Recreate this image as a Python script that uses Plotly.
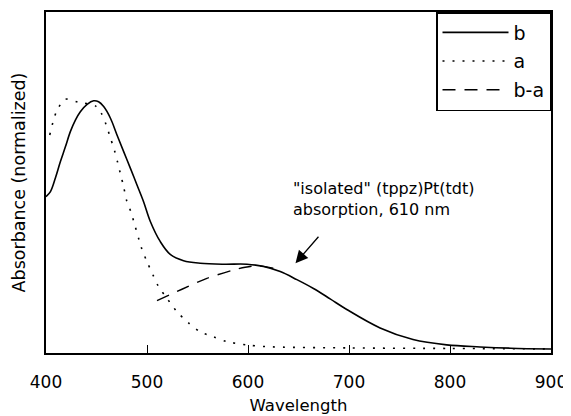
import plotly.graph_objects as go

# wavelength (nm) / normalized absorbance
b_x = [400, 404.4, 409.3, 414.2, 419.2, 424.1, 429.1, 434, 440.7, 447.2, 452.1, 457.1,
       463.7, 470.3, 476.9, 483.5, 490.1, 496.6, 503.3, 513.2, 523, 536.2, 552.7, 575.8,
       599, 615.3, 631.9, 648.4, 664.8, 681.3, 697.8, 730.8, 763.4, 796.7, 829.7, 860, 900]
b_y = [0.618, 0.638, 0.692, 0.756, 0.815, 0.875, 0.921, 0.954, 0.983, 0.997, 0.993, 0.974,
       0.929, 0.862, 0.796, 0.731, 0.664, 0.598, 0.520, 0.440, 0.390, 0.365, 0.355, 0.351,
       0.351, 0.342, 0.322, 0.290, 0.255, 0.214, 0.172, 0.099, 0.053, 0.032, 0.024, 0.019, 0.016]

a_x = [403.7, 407, 411, 419.2, 432.3, 448.9, 454.8, 459.4, 463.7, 467.7, 470.9, 473.6,
       476.9, 479.5, 484.2, 495, 500, 506, 511.5, 519.8, 529.7, 541.1, 552.7, 565.9,
       579.1, 598.9, 618.7, 700, 800, 900]
a_y = [0.862, 0.914, 0.960, 1.003, 0.991, 0.977, 0.947, 0.904, 0.851, 0.802, 0.754, 0.710,
       0.657, 0.607, 0.556, 0.410, 0.361, 0.308, 0.262, 0.216, 0.163, 0.119, 0.084, 0.064,
       0.045, 0.032, 0.025, 0.020, 0.018, 0.016]

ba_x = [509.9, 534.6, 559.3, 585.7, 597.2, 610, 625]
ba_y = [0.207, 0.252, 0.295, 0.328, 0.339, 0.345, 0.335]

x_ticks = [400, 500, 600, 700, 800, 900]

FONT = "DejaVu Sans, Liberation Sans, Arial, sans-serif"

fig = go.Figure()
fig.add_trace(go.Scatter(x=b_x, y=b_y, name="b", mode="lines", legendgroup="b",
                         line=dict(color="black", width=1.6, shape="spline", smoothing=1)))
fig.add_trace(go.Scatter(x=a_x, y=a_y, name="a", mode="lines", legendgroup="a",
                         line=dict(color="black", width=1.6, dash="2px,8px",
                                   shape="spline", smoothing=0.8)))
fig.add_trace(go.Scatter(x=ba_x, y=ba_y, name="b-a", mode="lines", legendgroup="ba",
                         line=dict(color="black", width=1.4, dash="13px,9px",
                                   shape="spline", smoothing=0.8)))

# the page body adds an 8px offset; figure is sized to fit the 571x416 window
W, H = 563, 408
L, R, T, B = 38, 20, 4, 63
pw, ph = W - L - R, H - T - B


def px(xref_pixel):
    return (xref_pixel - 8 - L) / pw


def py(yref_pixel):
    return (H - B - (yref_pixel - 8)) / ph


fig.update_layout(
    width=W, height=H,
    margin=dict(l=L, r=R, t=T, b=B, autoexpand=False),
    paper_bgcolor="white", plot_bgcolor="white",
    font=dict(family=FONT, color="black", size=16),
    showlegend=True,
    legend=dict(x=1, y=1, xanchor="right", yanchor="top",
                bgcolor="white", bordercolor="black", borderwidth=1.5,
                font=dict(size=19), tracegroupgap=1,
                itemwidth=66),
    xaxis=dict(range=[400, 900], tickvals=x_ticks, ticktext=[str(v) for v in x_ticks],
               ticks="inside", ticklen=8, tickwidth=1.2, tickcolor="black",
               ticklabelstandoff=13,
               showline=True, linecolor="black", linewidth=2, mirror=True,
               showgrid=False, zeroline=False, automargin=False,
               tickfont=dict(size=17),
               title=dict(text="Wavelength", font=dict(size=16.5), standoff=8)),
    yaxis=dict(range=[0, 1.348], showticklabels=False, ticks="",
               showline=True, linecolor="black", linewidth=2, mirror=True,
               showgrid=False, zeroline=False, automargin=False,
               title=dict(text="Absorbance (normalized)", font=dict(size=17.5), standoff=14)),
)

fig.add_annotation(x=647, y=0.355, ax=27, ay=-31, axref="pixel", ayref="pixel",
                   text=" ", showarrow=True, arrowhead=2, arrowsize=1.9, arrowwidth=1.3,
                   arrowcolor="black")
fig.add_annotation(xref="paper", yref="paper", x=px(291), y=py(177),
                   xanchor="left", yanchor="top", align="left", showarrow=False,
                   text="\"isolated\" (tppz)Pt(tdt)<br>absorption, 610 nm",
                   font=dict(size=16, family=FONT))

fig.write_html("out.html")
